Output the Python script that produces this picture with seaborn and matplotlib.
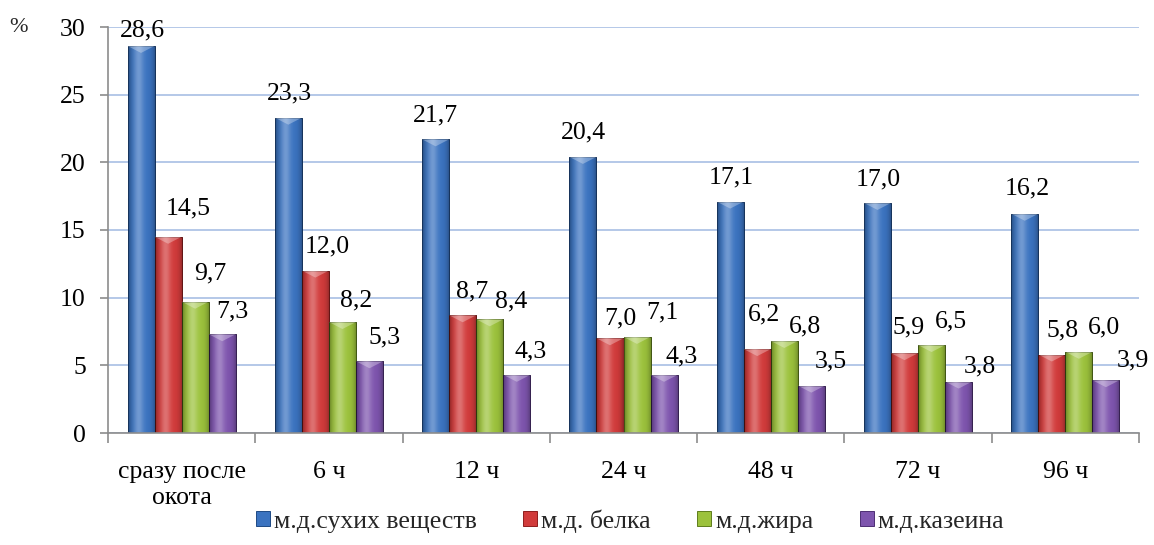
import numpy as np
import pandas as pd
import matplotlib
matplotlib.use("Agg")
import matplotlib.pyplot as plt
import seaborn as sns
from matplotlib.patches import Polygon

categories = ["сразу после\nокота", "6 ч", "12 ч", "24 ч", "48 ч", "72 ч", "96 ч"]
series_names = ["м.д.сухих веществ", "м.д. белка", "м.д.жира", "м.д.казеина"]
dry_matter = [28.6, 23.3, 21.7, 20.4, 17.1, 17.0, 16.2]
protein = [14.5, 12.0, 8.7, 7.0, 6.2, 5.9, 5.8]
fat = [9.7, 8.2, 8.4, 7.1, 6.8, 6.5, 6.0]
casein = [7.3, 5.3, 4.3, 4.3, 3.5, 3.8, 3.9]
y_ticks = [0, 5, 10, 15, 20, 25, 30]

colors = ["#3B73C0", "#D13B3B", "#9CC23C", "#7E55AE"]
edge_colors = ["#1F4A85", "#8E1E1E", "#5F7D1C", "#4D2F73"]

# hand-placed value label offsets in pixels from the top centre of each bar
label_dx = [[1, 1, 0, 1, 1, 1, 2],
            [20, 12, 9, 10, 7, 4, 11],
            [15, 14, 21, 25, 21, 19, 25],
            [10, 15, 14, 18, 19, 21, 27]]
label_dy = [[9, 18, 18, 18, 18, 17, 19],
            [22, 18, 18, 14, 29, 20, 18],
            [22, 16, 12, 18, 9, 18, 18],
            [17, 18, 17, 12, 18, 9, 14]]

FS = 18.5

sns.set_theme(style="white")
plt.rcParams["font.family"] = "serif"
plt.rcParams["font.serif"] = ["Liberation Serif", "DejaVu Serif"]

rows = []
for name, vals in zip(series_names, [dry_matter, protein, fat, casein]):
    for cat, v in zip(categories, vals):
        rows.append({"cat": cat, "series": name, "value": v})
df = pd.DataFrame(rows)

fig = plt.figure(figsize=(11.54, 5.45), dpi=100)
ax = fig.add_axes([108 / 1154, 1 - 433 / 545, (1139 - 108) / 1154, (433 - 27) / 545])

sns.barplot(data=df, x="cat", y="value", hue="series", order=categories,
            hue_order=series_names, palette=colors, width=0.735, gap=0,
            saturation=1, ax=ax, legend=False, zorder=2)

ax.set_ylim(0, 30)
ax.set_xlim(-0.5, len(categories) - 0.5)
ax.set_yticks(y_ticks)
ax.set_yticklabels([str(t) for t in y_ticks])
ax.set_xlabel("")
ax.set_ylabel("")
ax.set_axisbelow(True)
ax.yaxis.grid(True, color="#B4C8E8", linewidth=1.4)
ax.xaxis.grid(False)
for s in ["top", "right"]:
    ax.spines[s].set_visible(False)
for s in ["left", "bottom"]:
    ax.spines[s].set_color("#8C8C8C")
    ax.spines[s].set_linewidth(1.2)

ax.tick_params(axis="y", which="major", left=True, length=6, width=1.2,
               color="#8C8C8C", labelsize=FS, pad=10, labelcolor="black")
ax.set_xticks(range(len(categories)))
ax.set_xticklabels(categories, fontsize=FS, linespacing=1.25)
ax.tick_params(axis="x", which="major", bottom=False, length=0, pad=20,
               labelcolor="black")
ax.set_xticks(np.arange(-0.5, len(categories)), minor=True)
ax.tick_params(axis="x", which="minor", bottom=True, length=7, width=1.2,
               color="#8C8C8C")

# shading on bars: highlight near centre, darker edges, bevelled top
t = np.linspace(0, 1, 64)
hi = np.zeros((1, 64, 4))
hi[..., :3] = 1.0
hi[0, :, 3] = 0.28 * np.exp(-((t - 0.38) / 0.18) ** 2)
lo = np.zeros((1, 64, 4))
lo[0, :, 3] = 0.35 * (np.abs(t - 0.5) * 2) ** 4

all_vals = [dry_matter, protein, fat, casein]
px_per_unit = (433 - 27) / 30.0
for k, cont in enumerate(ax.containers):
    for j, bar in enumerate(cont.patches):
        bar.set_edgecolor(edge_colors[k])
        bar.set_linewidth(0.7)
        x0, w, h = bar.get_x(), bar.get_width(), bar.get_height()
        for img in (hi, lo):
            im = ax.imshow(img, extent=(x0, x0 + w, 0, h), aspect="auto",
                           interpolation="bilinear", zorder=2.1)
            im.set_clip_path(bar)
        d = 7 / px_per_unit
        ax.add_patch(Polygon([(x0, h), (x0 + w, h), (x0 + w / 2, h - d)],
                             closed=True, facecolor="white", alpha=0.3,
                             edgecolor="none", zorder=2.2))
        v = all_vals[k][j]
        ax.annotate(f"{v:.1f}".replace(".", ","), (x0 + w / 2, v),
                    xytext=(label_dx[k][j] * 0.72, label_dy[k][j] * 0.72),
                    textcoords="offset points", ha="center", va="baseline",
                    fontsize=FS, color="black", zorder=3)

ax.set_xlim(-0.5, len(categories) - 0.5)
ax.set_ylim(0, 30)

fig.text(18 / 1154, 1 - 27 / 545, "%", fontsize=16, ha="center", va="center")

handles = [plt.Rectangle((0, 0), 1, 1, facecolor=c, edgecolor=e, linewidth=0.7)
           for c, e in zip(colors, edge_colors)]
fig.legend(handles, series_names, loc="center", bbox_to_anchor=(0.546, 1 - 521 / 545),
           ncol=4, frameon=False, fontsize=FS, handlelength=0.55,
           handleheight=0.55, handletextpad=0.15, columnspacing=1.8)

fig.savefig("out.png", dpi=100)
